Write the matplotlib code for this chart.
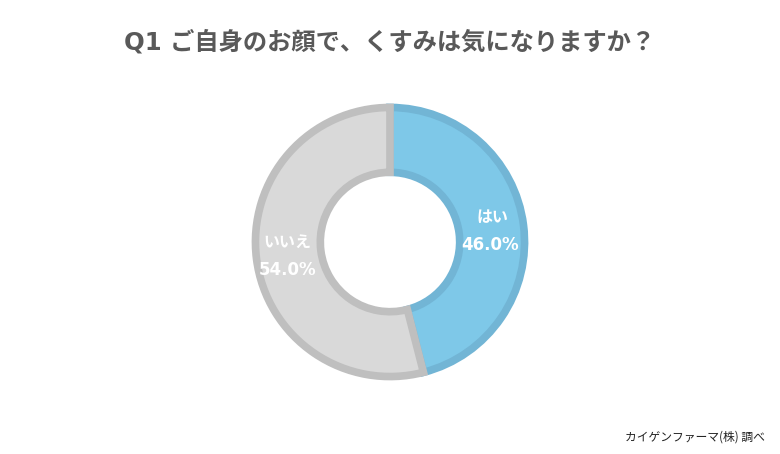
import matplotlib
matplotlib.use("Agg")
from matplotlib import pyplot as plt

plt.rcParams['font.family'] = ['DejaVu Sans', 'Noto Sans CJK JP']

labels = ['はい', 'いいえ']
values = [46.0, 54.0]
colors = ['#7EC8E8', '#D9D9D9']
edges = ['#72B5D5', '#BFBFBF']

fig = plt.figure(figsize=(7.8, 4.54), dpi=100)
fig.text(0.5, 1 - 42 / 454, 'Q1 ご自身のお顔で、くすみは気になりますか？',
         ha='center', va='center', fontsize=17.5, fontweight='bold', color='#595959')

# donut centered at (390, 242) px, radius ~138 px
ax = fig.add_axes([240 / 780, (454 - 242 - 150) / 454, 300 / 780, 300 / 454])

wedges, _ = ax.pie(values, colors=colors, startangle=90, counterclock=False,
                   radius=0.975, wedgeprops=dict(width=0.47, linewidth=5.5))
for w, e in zip(wedges, edges):
    w.set_edgecolor(e)

lim = 150 / 138
ax.set_xlim(-lim, lim)
ax.set_ylim(-lim, lim)
ax.set_aspect('equal')
ax.axis('off')

# labels (name above, percent below)
name_pos = [(0.74, 0.18), (-0.746, 0.0)]
pct_pos = [(0.725, -0.022), (-0.739, -0.203)]
for (nx, ny), (px, py), lab, v in zip(name_pos, pct_pos, labels, values):
    ax.text(nx, ny, lab, ha='center', va='center', fontsize=11.5,
            fontweight='bold', color='white')
    ax.text(px, py, f'{v:.1f}%', ha='center', va='center', fontsize=12,
            fontweight='bold', color='white')

fig.text(695 / 780, 1 - 437 / 454, 'カイゲンファーマ(株) 調べ', ha='center', va='center',
         fontsize=8.5, color='#222222', family=['Noto Sans CJK JP'])

plt.savefig('out.png', dpi=100)
